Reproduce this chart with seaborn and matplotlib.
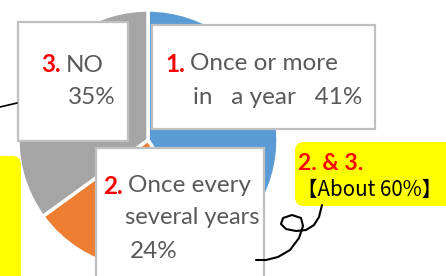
import matplotlib
matplotlib.use("Agg")
import matplotlib.pyplot as plt
import seaborn as sns
from matplotlib.patches import Rectangle, FancyBboxPatch

# data
numbers = ["1.", "2.", "3."]
categories = ["Once or more\nin a year", "Once every\nseveral years", "NO"]
shares = [41, 24, 35]
colors = ["#5B9BD5", "#ED7D31", "#A5A5A5"]
summary_head = "2. & 3."
summary_text = "\u3010About 60%\u3011"

sns.set_theme(style="white")
plt.rcParams["font.family"] = ["Lato", "DejaVu Sans"]

W, H = 446, 276
fig = plt.figure(figsize=(W / 100, H / 100), dpi=100)
ax = fig.add_axes([0, 0, 1, 1])

# pie in pixel coordinates, y axis pointing down
ax.pie(shares, colors=colors, startangle=-90, counterclock=True,
       center=(148, 140), radius=130,
       wedgeprops=dict(edgecolor="white", linewidth=2.5))
ax.set_xlim(0, W)
ax.set_ylim(H, 0)
ax.set_aspect("equal")
ax.axis("off")

gray_txt = "#595959"
red = "#FF0000"
fs = 17.5


def box(x0, y0, x1, y1):
    ax.add_patch(Rectangle((x0, y0), x1 - x0, y1 - y0, facecolor="white",
                           edgecolor="#BFBFBF", linewidth=1.6, zorder=3))


def label(x, y, num, text):
    t = ax.text(x, y, num, color=red, fontsize=fs, fontweight="bold",
                va="center", ha="left", zorder=4)
    fig.canvas.draw()
    bb = t.get_window_extent().transformed(ax.transData.inverted())
    ax.text(bb.x1 + 5, y, text, color=gray_txt, fontsize=fs,
            va="center", ha="left", zorder=4)


# label boxes
box(18, 22, 128, 141)
label(41, 65, numbers[2], categories[2])
ax.text(68, 98, f"{shares[2]}%", color=gray_txt, fontsize=fs,
        va="center", ha="left", zorder=4)

box(152, 25, 375, 129)
label(165, 64, numbers[0], categories[0].split("\n")[0])
ax.text(193, 97, categories[0].split("\n")[1].replace("in ", "in   ") + f"   {shares[0]}%",
        color=gray_txt, fontsize=fs, va="center", ha="left", zorder=4)

box(96, 148, 264, 290)
label(103, 186, numbers[1], categories[1].split("\n")[0])
ax.text(125, 218, categories[1].split("\n")[1], color=gray_txt, fontsize=17,
        va="center", ha="left", zorder=4)
ax.text(130, 252, f"{shares[1]}%", color=gray_txt, fontsize=fs,
        va="center", ha="left", zorder=4)

# yellow callouts
ax.add_patch(FancyBboxPatch((301, 148), 160, 52, boxstyle="round,pad=6,rounding_size=9",
                            facecolor="#FFFF00", edgecolor="none", zorder=3))
ax.text(298, 163, summary_head, color=red, fontsize=16.5, fontweight="bold",
        va="center", ha="left", zorder=4)
ax.text(297, 190, summary_text, color="black", fontsize=14.8,
        family=["Noto Sans CJK JP", "DejaVu Sans"], va="center", ha="left", zorder=4)

ax.add_patch(FancyBboxPatch((-40, 162), 55, 140, boxstyle="round,pad=6,rounding_size=9",
                            facecolor="#FFFF00", edgecolor="none", zorder=3))

# hand-drawn connector lines
ax.plot([0, 17], [107, 103], color="black", linewidth=1.2, zorder=5)
curl_x = [322, 319, 314, 306, 296, 286, 281, 283, 292, 301, 303, 299, 290, 278, 266, 256]
curl_y = [205, 217, 225, 230, 231, 229, 224, 218, 215, 218, 226, 238, 250, 257, 260, 260]
ax.plot(curl_x, curl_y, color="black", linewidth=1.5, zorder=5,
        solid_capstyle="round", solid_joinstyle="round")

fig.savefig("out.png", dpi=100)
